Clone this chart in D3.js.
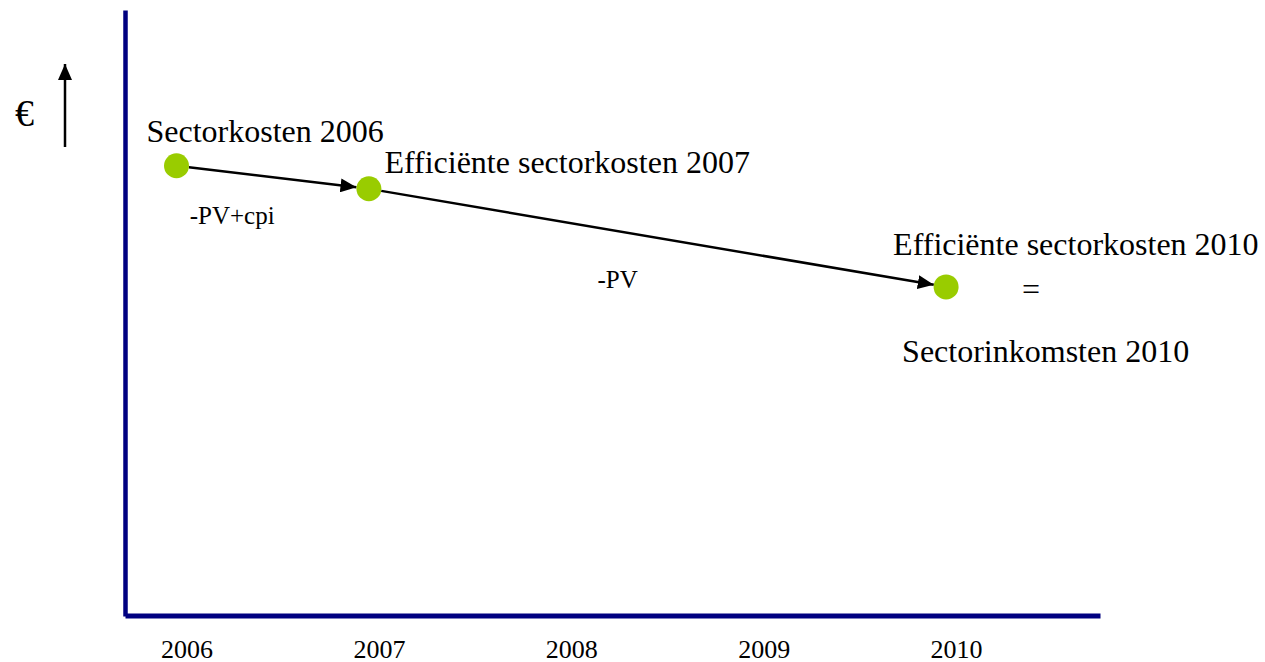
<!DOCTYPE html>
<html lang="nl">
<head>
  <meta charset="UTF-8">
  <title>Sectorkosten en sectorinkomsten</title>
  <style>
    body { margin: 0; background: #fff; }
    #chart { display: block; }
    #chart text { font-family: "Liberation Serif", "Times New Roman", serif !important; fill: #000; }
  </style>
</head>
<body>
  <svg id="chart"></svg>

  <script src="https://d3js.org/d3.v7.min.js"></script>
  <script>
    const width = 1265;
    const height = 662;

    // years on the horizontal axis
    const years = [2006, 2007, 2008, 2009, 2010];

    // points (year, cost level in arbitrary units)
    const pointYears = [2006, 2007, 2010];
    const pointValues = [74.3, 70.5, 54.3];
    const pointLabels = ["Sectorkosten 2006", "Efficiënte sectorkosten 2007", "Efficiënte sectorkosten 2010"];

    // labels on the arrows between consecutive points
    const arrowLabels = ["-PV+cpi", "-PV"];

    const points = pointYears.map((y, i) => ({ year: y, value: pointValues[i], label: pointLabels[i] }));

    const serif = "'Liberation Serif', 'Times New Roman', serif";

    // plot area edges
    const plotLeft = 125, plotRight = 1100, plotTop = 10, plotBottom = 616;

    // x: 2006 sits at 176.5px, 192.4px per year
    const x = d3.scaleLinear()
      .domain([2006 - (176.5 - plotLeft) / 192.4, 2006 + (plotRight - 176.5) / 192.4])
      .range([plotLeft, plotRight]);

    const y = d3.scaleLinear()
      .domain([0, 100])
      .range([plotBottom, plotTop]);

    const svg = d3.select("#chart")
      .attr("width", width)
      .attr("height", height);

    const defs = svg.append("defs");
    defs.append("marker")
      .attr("id", "head")
      .attr("viewBox", "0 0 16 14")
      .attr("refX", 16)
      .attr("refY", 7)
      .attr("markerWidth", 16)
      .attr("markerHeight", 14)
      .attr("markerUnits", "userSpaceOnUse")
      .attr("orient", "auto")
      .append("path")
      .attr("d", "M0,0 L16,7 L0,14 Z")
      .attr("fill", "#000");

    // axes
    const xAxis = svg.append("g")
      .attr("transform", `translate(0, ${plotBottom - 0.5})`)
      .attr("font-family", null)
      .call(d3.axisBottom(x)
        .tickValues(years)
        .tickFormat(d3.format("d"))
        .tickSize(0)
        .tickSizeOuter(0)
        .tickPadding(24));
    xAxis.attr("font-family", serif).attr("font-size", 26);
    xAxis.select(".domain")
      .attr("stroke", "#000080")
      .attr("stroke-width", 5);
    xAxis.selectAll(".tick text")
      .attr("dx", 10)
      .style("font-family", serif)
      .style("font-size", "26px")
      .attr("fill", "#000");

    const yAxis = svg.append("g")
      .attr("transform", `translate(${plotLeft}, 0)`)
      .call(d3.axisLeft(y).tickValues([]).tickSizeOuter(0));
    yAxis.select(".domain")
      .attr("stroke", "#000080")
      .attr("stroke-width", 4.5);

    // euro label with up arrow
    svg.append("text")
      .attr("x", 15)
      .attr("y", 126)
      .style("font-family", serif)
      .style("font-size", "38px")
      .text("€");
    svg.append("line")
      .attr("x1", 65).attr("y1", 147)
      .attr("x2", 65).attr("y2", 64)
      .attr("stroke", "#000")
      .attr("stroke-width", 2.5)
      .attr("marker-end", "url(#head)");

    // arrows between points, from circle edge to circle edge
    const r = 12.5;
    const segs = d3.pairs(points).map(([a, b], i) => {
      const x1 = x(a.year), y1 = y(a.value), x2 = x(b.year), y2 = y(b.value);
      const len = Math.hypot(x2 - x1, y2 - y1);
      const ux = (x2 - x1) / len, uy = (y2 - y1) / len;
      return { x1: x1 + r * ux, y1: y1 + r * uy, x2: x2 - r * ux, y2: y2 - r * uy, label: arrowLabels[i] };
    });

    svg.selectAll(".arrow")
      .data(segs)
      .join("line")
      .attr("class", "arrow")
      .attr("x1", d => d.x1).attr("y1", d => d.y1)
      .attr("x2", d => d.x2).attr("y2", d => d.y2)
      .attr("stroke", "#000")
      .attr("stroke-width", 2.5)
      .attr("marker-end", "url(#head)");

    // arrow labels sit below the middle of each arrow
    const arrowLabelOffset = [[-83, 47], [-60, 50]];
    svg.selectAll(".arrow-label")
      .data(segs)
      .join("text")
      .attr("class", "arrow-label")
      .attr("x", (d, i) => (d.x1 + d.x2) / 2 + arrowLabelOffset[i][0])
      .attr("y", (d, i) => (d.y1 + d.y2) / 2 + arrowLabelOffset[i][1])
      .style("font-family", serif)
      .style("font-size", "25px")
      .text(d => d.label);

    // points
    svg.selectAll(".pt")
      .data(points)
      .join("circle")
      .attr("class", "pt")
      .attr("cx", d => x(d.year))
      .attr("cy", d => y(d.value))
      .attr("r", r)
      .attr("fill", "#99cc00");

    // point labels
    const labelOffset = [[-30, -24], [15.5, -16], [-53, -32]];
    svg.selectAll(".pt-label")
      .data(points)
      .join("text")
      .attr("class", "pt-label")
      .attr("x", (d, i) => x(d.year) + labelOffset[i][0])
      .attr("y", (d, i) => y(d.value) + labelOffset[i][1])
      .style("font-family", serif)
      .style("font-size", "32px")
      .text(d => d.label);

    // last point equals sector income
    const last = points[points.length - 1];
    svg.append("text")
      .attr("x", x(last.year) + 85)
      .attr("y", y(last.value) + 13)
      .attr("text-anchor", "middle")
      .style("font-family", serif)
      .style("font-size", "32px")
      .text("=");
    svg.append("text")
      .attr("x", x(last.year) - 44)
      .attr("y", y(last.value) + 75)
      .style("font-family", serif)
      .style("font-size", "32px")
      .text("Sectorinkomsten 2010");
  </script>
</body>
</html>
